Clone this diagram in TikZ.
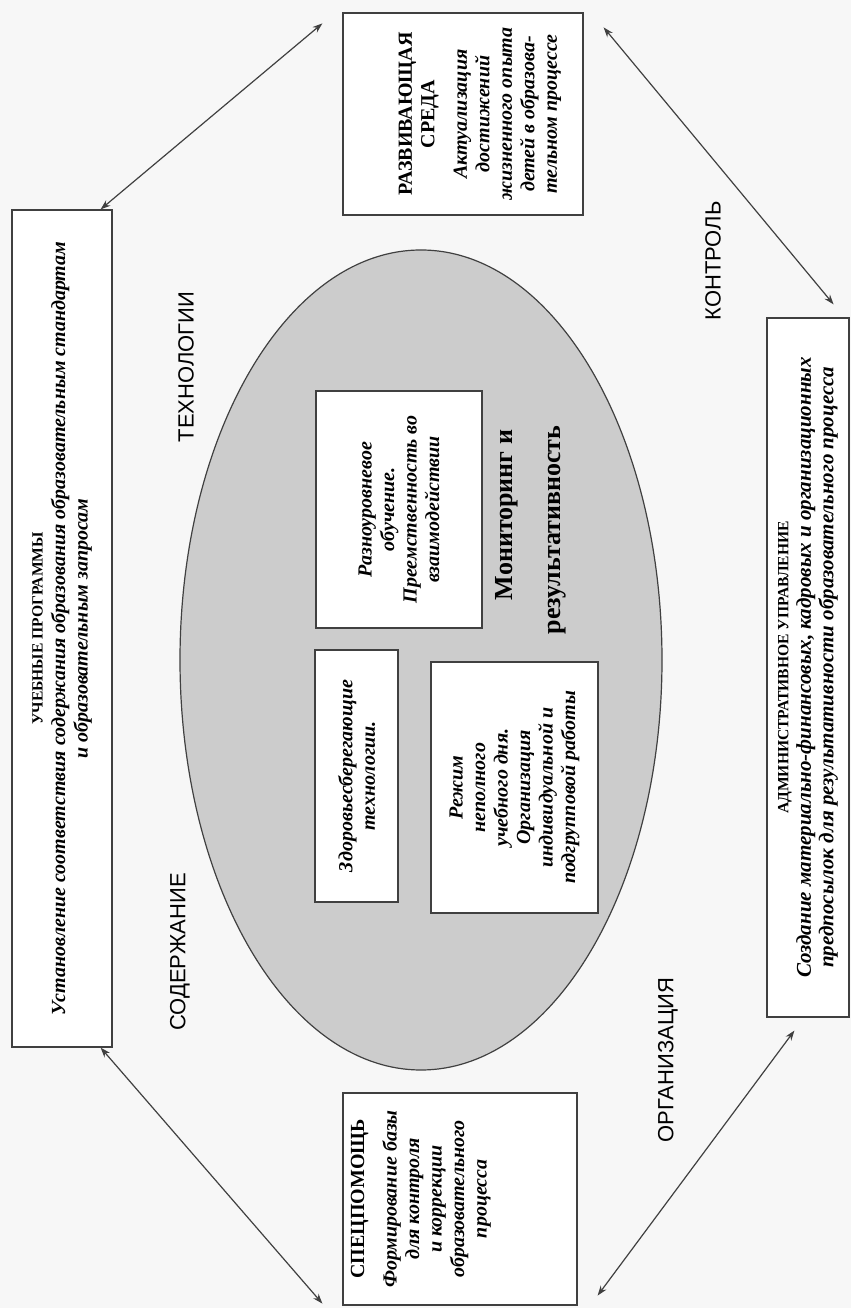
\documentclass[tikz,border=0pt]{standalone}
\usepackage{fontspec}
\setmainfont{Liberation Serif}
\newfontfamily\labelfont{Liberation Sans}
\usetikzlibrary{positioning,calc,arrows.meta,shapes.geometric}

\tikzset{
  panel/.style={draw=black!75, line width=0.6pt, fill=white, rotate=90, align=center, inner sep=2pt,
    font=\fontsize{10}{11.25}\selectfont\bfseries\itshape},
  rot/.style={rotate=90, align=center, inner sep=0pt, font=\fontsize{10}{11.25}\selectfont\bfseries\itshape},
  side/.style={rotate=90, inner sep=0pt, font=\labelfont\fontsize{11}{13}\selectfont},
  link/.style={{Stealth[length=5pt,width=3.5pt]}-{Stealth[length=5pt,width=3.5pt]}, draw=black!75, line width=0.6pt}
}
\newcommand{\ttl}[2][7.8]{{\upshape\fontsize{#1}{11.25}\selectfont #2}}

\begin{document}
\begin{tikzpicture}[x=0.5pt,y=0.5pt]
\fill[black!3] (0,0) rectangle (851,1308);
\useasboundingbox (0,0) rectangle (851,1308);

% centre
\node[ellipse, draw=black!75, line width=0.6pt, fill=black!20, minimum width=241pt, minimum height=410pt] (core) at (421,648) {};
\node[panel, minimum width=118.5pt, minimum height=83pt] (raznu) at (399,798.5) {Разноуровневое\\обучение.\\Преемственность во\\взаимодействии};
\node[panel, minimum width=126pt, minimum height=41.5pt] (zdor) at (356.5,532) {Здоровьесберегающие\\технологии.};
\node[panel, minimum width=125.5pt, minimum height=83.5pt] (rezhim) at (514.5,520.5) {Режим\\неполного\\учебного дня.\\Организация\\индивидуальной и\\подгрупповой работы};
\node[rot, font=\fontsize{13}{15}\selectfont\bfseries] (monit) at (507,793) {Мониторинг и};
\node[rot, font=\fontsize{13}{15}\selectfont\bfseries] (result) at (557,778) {результативность};

% outer boxes
\node[panel, minimum width=418.5pt, minimum height=50pt] (uch) at (62,679.5) {\ttl{УЧЕБНЫЕ ПРОГРАММЫ}\\Установление соответствия содержания образования образовательным стандартам\\и образовательным запросам};
\node[panel, minimum width=349.5pt, minimum height=41pt, font=\fontsize{10.5}{11.25}\selectfont\bfseries\itshape] (adm) at (808,640.5) {\ttl{АДМИНИСТРАТИВНОЕ УПРАВЛЕНИЕ}\\Создание материально-финансовых, кадровых и организационных\\предпосылок для результативности образовательного процесса};
\node[panel, minimum width=101pt, minimum height=120pt] (razv) at (463,1194) {};
\node[rot, anchor=south] (razvtxt) at ($(razv.south)+(-22,0)$) {\ttl[10]{РАЗВИВАЮЩАЯ}\\\ttl[10]{СРЕДА}\\[5pt]Актуализация\\достижений\\жизненного опыта\\детей в образова-\\тельном процессе};
\node[panel, minimum width=106pt, minimum height=117pt] (spec) at (460,109) {};
\node[rot, anchor=north] (spectxt) at ($(spec.north)+(8,0)$) {\ttl[10]{СПЕЦПОМОЩЬ}\\[5pt]Формирование базы\\для контроля\\и коррекции\\образовательного\\процесса};

% side labels
\node[side] (tech) at (186,941) {ТЕХНОЛОГИИ};
\node[side] (sod) at (180,356) {СОДЕРЖАНИЕ};
\node[side] (kontr) at (713,1047) {КОНТРОЛЬ};
\node[side] (org) at (668,248) {ОРГАНИЗАЦИЯ};

% links
\draw[link] ($(uch.south east)+(-12,0)$) -- ($(razv.north east)+(-20,-11)$);
\draw[link] ($(razv.south east)+(20,-15)$) -- ($(adm.south east)+(-16,13)$);
\draw[link] ($(uch.south west)+(-12,0)$) -- ($(spec.north west)+(-20,2)$);
\draw[link] ($(spec.south west)+(20,10)$) -- ($(adm.north west)+(28,-13)$);
\end{tikzpicture}
\end{document}
